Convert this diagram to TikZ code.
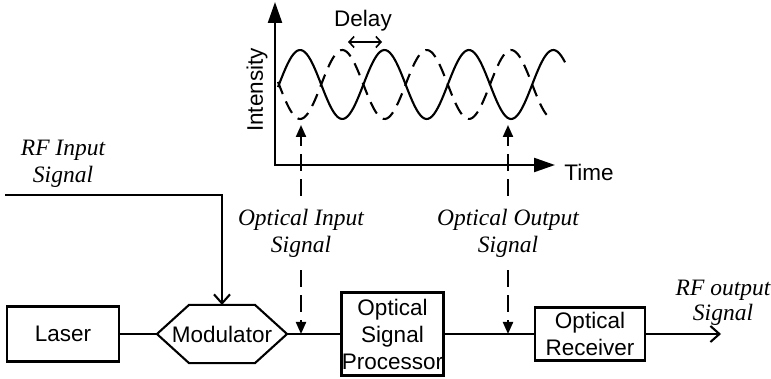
\documentclass[tikz,border=0pt]{standalone}
\usepackage{fontspec}
\setmainfont{Liberation Serif}
\setsansfont{Liberation Sans}
\usetikzlibrary{arrows.meta, calc, positioning}

\begin{document}
\begin{tikzpicture}[x=1pt, y=-1pt, line width=2.1pt,
  blk/.style={draw, rectangle, inner sep=0pt, align=center, font=\sffamily\fontsize{22.5}{27}\selectfont},
  lbl/.style={inner sep=0pt, outer sep=13pt, align=center, font=\itshape\fontsize{23.5}{27}\selectfont},
  axes/.style={{Triangle[length=21pt,width=14pt]}-{Triangle[length=21pt,width=14pt]}, line width=2.3pt},
  probe/.style={-{Triangle[length=12pt,width=10pt]}, dash pattern=on 17pt off 8pt},
  feed/.style={-{Straight Barb[length=9pt,width=16pt]}}]
  \useasboundingbox (0,0) rectangle (771,379);
  \coordinate (O) at (275,165);
  \coordinate (ytip) at (275,2);
  \coordinate (xtip) at (555,165);
  \draw[axes] (ytip) -- (O) -- (xtip);
  \node[font=\sffamily\fontsize{22.5}{27}\selectfont] (time) at (589,172) {Time};
  \node[rotate=90, font=\sffamily\fontsize{22.5}{27}\selectfont] (int) at (257,90) {Intensity};
  \node[font=\sffamily\fontsize{22.5}{27}\selectfont] (delay) at (363,21) {Delay};
  \coordinate (d1) at (348,42);
  \coordinate (d2) at (382,42);
  \draw[{Straight Barb[length=5pt,width=11pt]}-{Straight Barb[length=5pt,width=11pt]}, line width=1.6pt] (d1) -- (d2);
  \draw plot[domain=278:565, samples=150, smooth] (\x, {84.5-34.5*sin(4.2654*(\x-279))});
  \draw[dash pattern=on 13pt off 8pt] plot[domain=278:553, samples=150, smooth] (\x, {84.5+34.5*sin(4.2654*(\x-279))});

  \node[blk, minimum width=112pt, minimum height=55pt] (laser) at (63,334) {Laser};
  \node[inner sep=0pt, minimum width=128pt, minimum height=56pt, font=\sffamily\fontsize{22.5}{27}\selectfont] (mod) at (222,334) {Modulator};
  \draw (mod.west) -- ([xshift=32pt]mod.north west) -- ([xshift=-32pt]mod.north east) -- (mod.east)
    -- ([xshift=-32pt]mod.south east) -- ([xshift=32pt]mod.south west) -- cycle;
  \node[blk, minimum width=102pt, minimum height=83pt] (osp) at (392.5,334) {Optical\\Signal\\Processor};
  \node[blk, minimum width=110pt, minimum height=53pt] (rx) at (590,334) {Optical\\Receiver};
  \coordinate (rfin) at (5,195);
  \coordinate (rfout) at (721,334);
  \draw (laser) -- (mod);
  \draw (mod) -- (osp);
  \draw (osp) -- (rx);
  \draw[feed] (rx) -- (rfout);
  \draw[feed] (rfin) -| (mod.north);

  \node[lbl] (rfinlbl) at (63,164) {RF Input\\Signal};
  \node[lbl] (oin) at (301,233) {Optical Input\\Signal};
  \node[lbl] (oout) at (508,233) {Optical Output\\Signal};
  \node[lbl, font=\itshape\fontsize{23.5}{25}\selectfont] (rfoutlbl) at (723,303) {RF output\\Signal};
  \coordinate (inTop) at (301,125);
  \coordinate (inBot) at (301,334);
  \coordinate (outTop) at (508,125);
  \coordinate (outBot) at (508,334);
  \draw[probe] (oin) -- (inTop);
  \draw[probe] (oin) -- (inBot);
  \draw[probe] (oout) -- (outTop);
  \draw[probe] (oout) -- (outBot);
\end{tikzpicture}
\end{document}
